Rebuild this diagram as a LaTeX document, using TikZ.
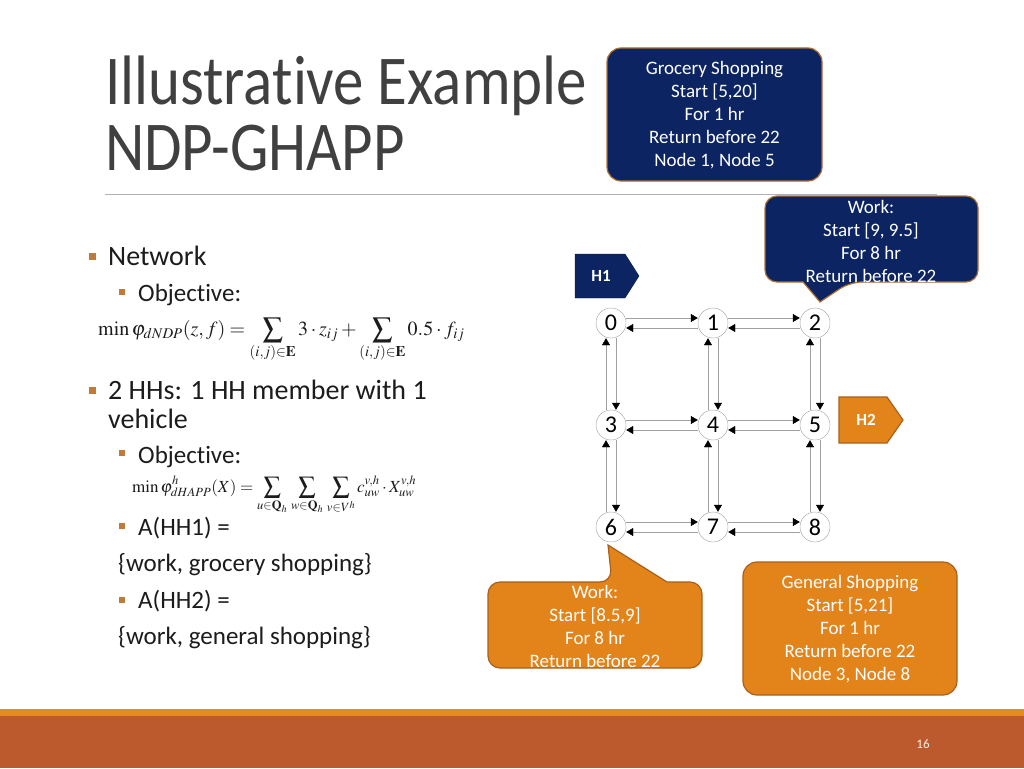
\documentclass[tikz,border=0pt]{standalone}
\usepackage{amsmath}
\usepackage[no-math]{fontspec}
\usepackage{mathptmx}
\setmainfont{Carlito}[Ligatures=NoCommon]
\newfontfamily\titlefont[FakeStretch=0.87,Ligatures=NoCommon]{Carlito}
\usetikzlibrary{arrows.meta,calc}
\definecolor{navy}{RGB}{12,36,97}
\definecolor{navyrim}{RGB}{176,112,48}
\definecolor{orangefill}{RGB}{226,132,26}
\definecolor{orangerim}{RGB}{168,96,28}
\definecolor{bandlight}{RGB}{230,138,36}
\definecolor{banddark}{RGB}{188,89,45}
\definecolor{bulletcol}{RGB}{192,122,58}
\definecolor{titlegray}{RGB}{64,64,64}
\definecolor{bodytext}{RGB}{28,28,28}
\definecolor{edgegray}{RGB}{160,160,160}

\tikzset{
  body/.style={anchor=base west, inner sep=0pt, text=bodytext},
  lvlone/.style={body, font=\fontsize{28}{34}\selectfont},
  lvltwo/.style={body, font=\fontsize{25}{30}\selectfont},
  gnode/.style={circle, draw=edgegray, fill=white, minimum size=30pt, inner sep=0pt,
    font=\fontsize{24}{24}\selectfont},
  edge/.style={draw=edgegray, thin, -{Triangle[length=7pt,width=8pt,black]}},
  boxtext/.style={align=center, text=white, inner sep=0pt, font=\fontsize{19}{23}\selectfont},
  navybox/.style={fill=navy, draw=navyrim, line width=1.2pt},
  orangebox/.style={fill=orangefill, draw=orangerim, line width=1.2pt},
}

\begin{document}
\begin{tikzpicture}[x=1pt,y=-1pt]
    \useasboundingbox (0,0) rectangle (1024,768);
    % Title
    \node[anchor=base west, inner sep=0pt, text=titlegray, font=\titlefont\fontsize{70}{70}\selectfont]
      (title1) at (105,104) {Illustrative Example};
    \node[anchor=base west, inner sep=0pt, text=titlegray, font=\titlefont\fontsize{70}{70}\selectfont]
      (title2) at (105,170) {NDP-GHAPP};
    \draw[gray!60, thin] (105,194) -- (937,194);

    % Bullets
    \fill[bulletcol] (89,253) rectangle (96,260);
    \fill[bulletcol] (119,289) rectangle (125,295);
    \fill[bulletcol] (89,387) rectangle (96,394);
    \fill[bulletcol] (119,450) rectangle (125,456);
    \fill[bulletcol] (119,523) rectangle (125,529);
    \fill[bulletcol] (119,597) rectangle (125,603);

    % Text body
    \node[lvlone] (network) at (108,265) {Network};
    \node[lvltwo] (obj1) at (138,301) {Objective:};
    \node[body, font=\fontsize{20}{20}\selectfont] (f1) at (98,335)
      {$\displaystyle \min \varphi_{dNDP}(z,f) = \sum_{(i,j)\in\mathbf{E}} 3\cdot z_{ij} + \sum_{(i,j)\in\mathbf{E}} 0.5\cdot f_{ij}$};
    \node[lvlone] (hh) at (108,399) {2 HHs: 1 HH member with 1};
    \node[lvlone] (veh) at (108,428) {vehicle};
    \node[lvltwo] (obj2) at (138,463) {Objective:};
    \node[body, font=\fontsize{17}{17}\selectfont] (f2) at (132,492)
      {$\displaystyle \min \varphi^{h}_{dHAPP}(X) = \sum_{u\in\mathbf{Q}_h}\,\sum_{w\in\mathbf{Q}_h}\,\sum_{v\in V^h} c^{v,h}_{uw}\cdot X^{v,h}_{uw}$};
    \node[lvltwo] (ahh1) at (138,535) {A(HH1) =};
    \node[lvltwo] (set1) at (118,571) {\{work, grocery shopping\}};
    \node[lvltwo] (ahh2) at (138,608) {A(HH2) =};
    \node[lvltwo] (set2) at (118,644) {\{work, general shopping\}};

    % Grid nodes
    \foreach \r in {0,1,2}
      \foreach \c in {0,1,2} {
        \pgfmathtruncatemacro{\k}{3*\r+\c}
        \node[gnode] (n\k) at (611+102*\c, 323+102*\r) {\k};
      }
    % Horizontal links
    \foreach \a in {0,1,3,4,6,7} {
      \pgfmathtruncatemacro{\b}{\a+1}
      \draw[edge] ([yshift=5pt]n\a.east) -- ([yshift=5pt]n\b.west);
      \draw[edge] ([yshift=-5pt]n\b.west) -- ([yshift=-5pt]n\a.east);
    }
    % Vertical links
    \foreach \a in {0,1,2,3,4,5} {
      \pgfmathtruncatemacro{\b}{\a+3}
      \draw[edge] ([xshift=5pt]n\a.south) -- ([xshift=5pt]n\b.north);
      \draw[edge] ([xshift=-5pt]n\b.north) -- ([xshift=-5pt]n\a.south);
    }

    % Home tags
    \draw[fill=navy, draw=navy!80!black] (575,254) -- (625,254) -- (639,276) -- (625,298) -- (575,298) -- cycle;
    \node[text=white, font=\bfseries\fontsize{17}{17}\selectfont] (H1) at (601,276) {H1};
    \draw[fill=orangefill, draw=orangerim, line width=1.2pt] (839,397) -- (887,397) -- (903,420) -- (887,443) -- (839,443) -- cycle;
    \node[text=white, font=\bfseries\fontsize{17}{17}\selectfont] (H2) at (866,420) {H2};

    % Activity boxes
    \draw[navybox, rounded corners=14pt] (607,48) rectangle (822,181);
    \node[boxtext] (grocery) at (714.5,115)
      {Grocery Shopping\\Start [5,20]\\For 1 hr\\Return before 22\\Node 1, Node 5};
    \draw[navybox, rounded corners=12pt] (803,282) -- (765,282) -- (765,196) -- (978,196) -- (978,282)
      -- (850,282) [sharp corners] -- (820,302) -- cycle;
    \node[boxtext] (work1) at (871,241)
      {Work:\\Start [9, 9.5]\\For 8 hr\\Return before 22};
    \draw[orangebox, rounded corners=12pt] (667,582) -- (702,582) -- (702,668) -- (488,668) -- (488,582)
      -- (612,582) [sharp corners] -- (608,545) -- cycle;
    \node[boxtext] (work2) at (595,626)
      {Work:\\Start [8.5,9]\\For 8 hr\\Return before 22};
    \draw[orangebox, rounded corners=14pt] (743,562) rectangle (957,695);
    \node[boxtext] (general) at (850,629)
      {General Shopping\\Start [5,21]\\For 1 hr\\Return before 22\\Node 3, Node 8};

    % Footer bands
    \fill[bandlight] (0,709) rectangle (1024,716);
    \fill[banddark] (0,716) rectangle (1024,768);
    \node[text=white!90!orange, font=\fontsize{13}{13}\selectfont] (pagenum) at (923,744) {16};
\end{tikzpicture}
\end{document}
